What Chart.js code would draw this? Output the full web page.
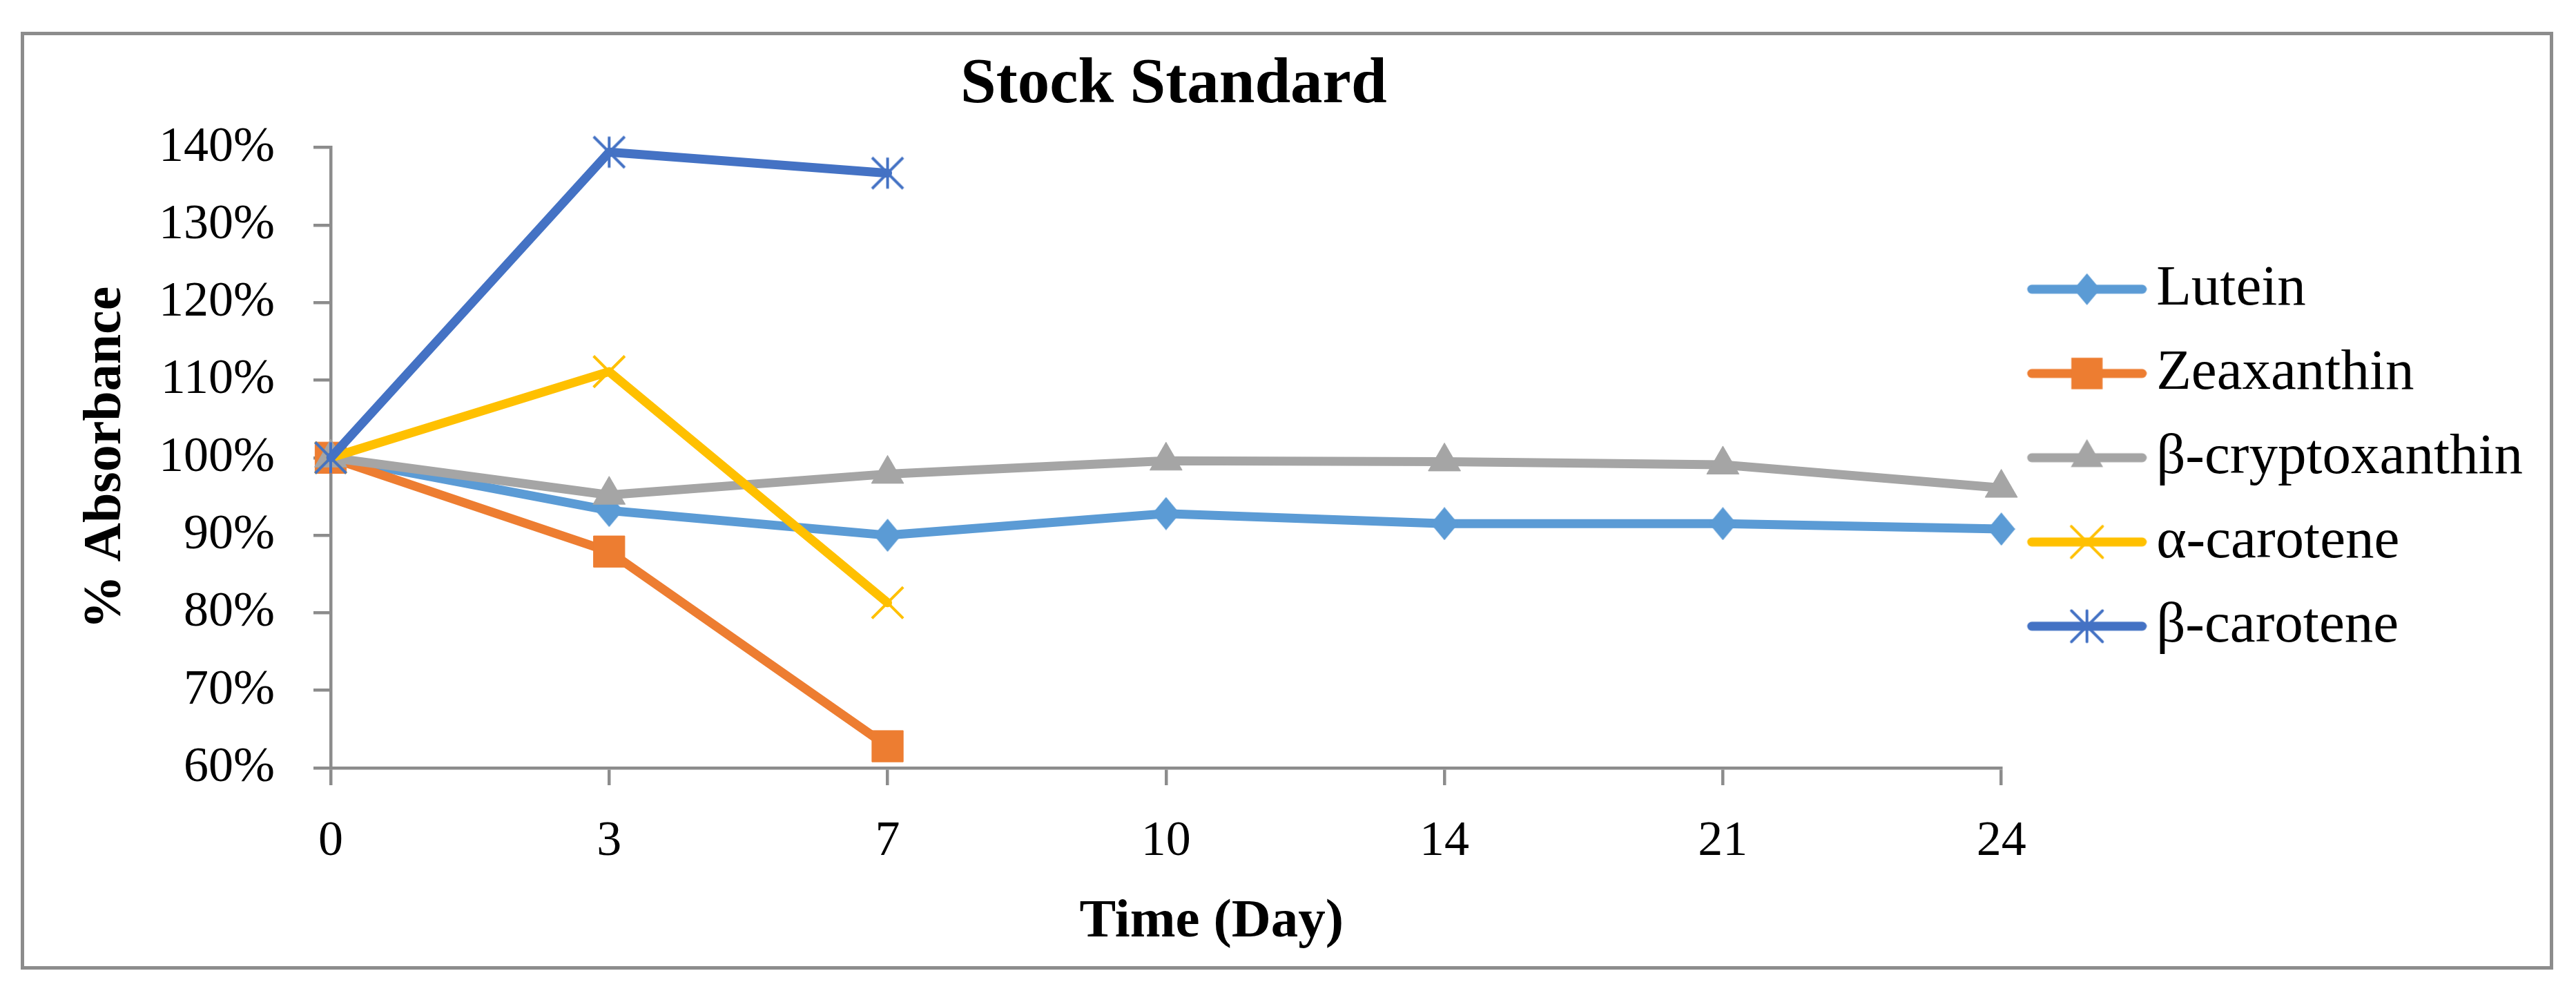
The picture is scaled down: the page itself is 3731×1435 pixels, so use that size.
<!DOCTYPE html>
<html>
<head>
<meta charset="utf-8">
<script src="https://cdn.jsdelivr.net/npm/chart.js@4/dist/chart.umd.min.js"></script>
<style>
  html, body { margin: 0; padding: 0; background: #ffffff; }
  #frame {
    position: absolute; left: 30px; top: 46px; width: 3668px; height: 1358px;
    box-sizing: border-box; border: 5px solid #8c8c8c; background: #ffffff;
  }
  #wrap { position: relative; width: 100%; height: 100%; }
</style>
</head>
<body>
<div id="frame"><div id="wrap"><canvas id="c"></canvas></div></div>
<script>
// ---- data ----
const days = ['0', '3', '7', '10', '14', '21', '24'];
const seriesNames = ['Lutein', 'Zeaxanthin', 'β-cryptoxanthin', 'α-carotene', 'β-carotene'];
const lutein = [100, 93.2, 90.0, 92.8, 91.5, 91.5, 90.8];
const zeaxanthin = [100, 87.9, 62.8, null, null, null, null];
const cryptoxanthin = [100, 95.2, 97.9, 99.6, 99.5, 99.1, 96.1];
const alphaCarotene = [100, 111.1, 81.3, null, null, null, null];
const betaCarotene = [100, 139.4, 136.7, null, null, null, null];
const yTicks = [60, 70, 80, 90, 100, 110, 120, 130, 140];

// ---- styles ----
const colors = ['#5B9BD5', '#ED7D31', '#A5A5A5', '#FFC000', '#4472C4'];
const markers = ['rectRot', 'rect', 'triangle', 'crossRot', 'asterisk'];
const radii = [23, 32, 27, 32, 0];
const axisColor = '#8c8c8c';
const FONT = "'Liberation Serif', 'Times New Roman', serif";
const LINE_W = 13;

function makeAsterisk(color) {
  const s = 54, c = document.createElement('canvas');
  c.width = s; c.height = s;
  const g = c.getContext('2d');
  g.strokeStyle = color; g.lineWidth = 4; g.lineCap = 'butt';
  const m = s / 2, h = 22.5;
  g.beginPath();
  g.moveTo(m - h, m - h); g.lineTo(m + h, m + h);
  g.moveTo(m + h, m - h); g.lineTo(m - h, m + h);
  g.moveTo(m, m - h); g.lineTo(m, m + h);
  g.stroke();
  return c;
}

function makeDiamond(color) {
  const w = 40, h = 48, c = document.createElement('canvas');
  c.width = w; c.height = h;
  const g = c.getContext('2d');
  g.fillStyle = color;
  g.beginPath();
  g.moveTo(w / 2, 0); g.lineTo(w, h / 2); g.lineTo(w / 2, h); g.lineTo(0, h / 2); g.closePath(); g.fill();
  return c;
}

function drawMarker(g, type, x, y, r, color) {
  g.save();
  g.fillStyle = color; g.strokeStyle = color;
  g.beginPath();
  if (type === 'rectRot') {
    g.moveTo(x, y - r); g.lineTo(x + r * 0.84, y); g.lineTo(x, y + r); g.lineTo(x - r * 0.84, y); g.closePath(); g.fill();
  } else if (type === 'rect') {
    const h = r * Math.SQRT1_2; g.rect(x - h, y - h, 2 * h, 2 * h); g.fill();
  } else if (type === 'triangle') {
    const w = r * Math.sin(Math.PI / 3);
    g.moveTo(x, y - r); g.lineTo(x + w, y + r / 2); g.lineTo(x - w, y + r / 2); g.closePath(); g.fill();
  } else if (type === 'crossRot') {
    const h = r * Math.SQRT1_2; g.lineWidth = 4;
    g.moveTo(x - h, y - h); g.lineTo(x + h, y + h); g.moveTo(x + h, y - h); g.lineTo(x - h, y + h); g.stroke();
  } else if (type === 'asterisk') {
    const h = 22.5; g.lineWidth = 4;
    g.moveTo(x - h, y - h); g.lineTo(x + h, y + h); g.moveTo(x + h, y - h); g.lineTo(x - h, y + h);
    g.moveTo(x, y - h); g.lineTo(x, y + h); g.stroke();
  }
  g.restore();
}

function makeLegendIcon(i) {
  const c = document.createElement('canvas');
  c.width = 200; c.height = 76;
  const g = c.getContext('2d');
  const cy = 38;
  g.strokeStyle = colors[i]; g.lineWidth = LINE_W; g.lineCap = 'round';
  g.beginPath(); g.moveTo(33, cy); g.lineTo(193, cy); g.stroke();
  drawMarker(g, markers[i], 113, cy, radii[i] || 32, colors[i]);
  return c;
}

const seriesValues = [lutein, zeaxanthin, cryptoxanthin, alphaCarotene, betaCarotene];
const legendIcons = seriesValues.map((_, i) => makeLegendIcon(i));

const datasets = seriesValues.map((vals, i) => {
  const isStar = markers[i] === 'asterisk';
  const isCross = markers[i] === 'crossRot';
  const isDiamond = markers[i] === 'rectRot';
  let style = markers[i];
  if (isStar) style = makeAsterisk(colors[i]);
  if (isDiamond) style = makeDiamond(colors[i]);
  return {
    label: seriesNames[i],
    data: vals,
    borderColor: colors[i],
    backgroundColor: colors[i],
    borderWidth: LINE_W,
    borderJoinStyle: 'round',
    borderCapStyle: 'round',
    tension: 0,
    spanGaps: false,
    clip: false,
    order: seriesValues.length - i,
    pointStyle: style,
    pointRadius: isStar ? 24 : radii[i],
    pointHoverRadius: isStar ? 24 : radii[i],
    pointBackgroundColor: colors[i],
    pointBorderColor: colors[i],
    pointBorderWidth: isCross ? 4 : 1
  };
});

// shifts the chart title and the x-axis title sideways, as in the original figure
const titleShift = {
  id: 'titleShift',
  afterLayout(chart) {
    const sx = chart.scales.x;
    if (sx && !sx.__shifted) {
      const orig = sx.drawTitle.bind(sx);
      sx.drawTitle = function () {
        chart.ctx.save(); chart.ctx.translate(66, 0); orig(); chart.ctx.restore();
      };
      sx.__shifted = true;
    }
    const tb = chart.titleBlock;
    if (tb && !tb.__shifted) {
      const origT = tb.draw.bind(tb);
      tb.draw = function () {
        chart.ctx.save(); chart.ctx.translate(11, 0); origT(); chart.ctx.restore();
      };
      tb.__shifted = true;
    }
  }
};

Chart.defaults.font.family = FONT;
Chart.defaults.color = '#000000';

new Chart(document.getElementById('c'), {
  type: 'line',
  data: { labels: days, datasets: datasets },
  plugins: [titleShift],
  options: {
    responsive: true,
    maintainAspectRatio: false,
    animation: false,
    devicePixelRatio: 1,
    layout: { padding: { top: 0, left: 0, right: 29, bottom: 0 } },
    plugins: {
      tooltip: { enabled: false },
      title: {
        display: true,
        text: 'Stock Standard',
        fullSize: false,
        color: '#000000',
        font: { family: FONT, size: 93, weight: 'bold' },
        padding: { top: 17, bottom: 34 }
      },
      legend: {
        display: true,
        position: 'right',
        align: 'center',
        fullSize: false,
        labels: {
          usePointStyle: true,
          pointStyleWidth: 144,
          boxHeight: 83,
          padding: 39,
          color: '#000000',
          font: { family: FONT, size: 83 },
          sort: (a, b) => a.datasetIndex - b.datasetIndex,
          generateLabels: (chart) => {
            const items = Chart.defaults.plugins.legend.labels.generateLabels(chart);
            items.forEach(it => {
              it.pointStyle = legendIcons[it.datasetIndex];
              it.rotation = 0;
            });
            return items;
          }
        }
      }
    },
    scales: {
      x: {
        type: 'category',
        offset: false,
        afterFit: (s) => { s.height = 287; },
        border: { display: true, color: axisColor, width: 4.5 },
        grid: { display: true, drawOnChartArea: false, drawTicks: true, tickLength: 25, color: axisColor, lineWidth: 4.5, tickWidth: 4.5 },
        ticks: { padding: 39, color: '#000000', font: { family: FONT, size: 72 }, maxRotation: 0, autoSkip: false },
        title: {
          display: true,
          text: 'Time (Day)',
          color: '#000000',
          font: { family: FONT, size: 79, weight: 'bold' },
          padding: { top: 0, bottom: 16 }
        }
      },
      y: {
        min: yTicks[0],
        max: yTicks[yTicks.length - 1],
        afterFit: (s) => { s.width = 444; },
        afterBuildTicks: (s) => { s.ticks = yTicks.map(v => ({ value: v })); },
        border: { display: true, color: axisColor, width: 4.5 },
        grid: { display: true, drawOnChartArea: false, drawTicks: true, tickLength: 25, color: axisColor, lineWidth: 4.5, tickWidth: 4.5 },
        ticks: {
          padding: 56,
          color: '#000000',
          font: { family: FONT, size: 72 },
          callback: (v) => v + '%'
        },
        title: {
          display: true,
          text: '% Absorbance',
          color: '#000000',
          font: { family: FONT, size: 78, weight: 'bold' },
          padding: { top: 72, bottom: 0 }
        }
      }
    }
  }
});
</script>
</body>
</html>
